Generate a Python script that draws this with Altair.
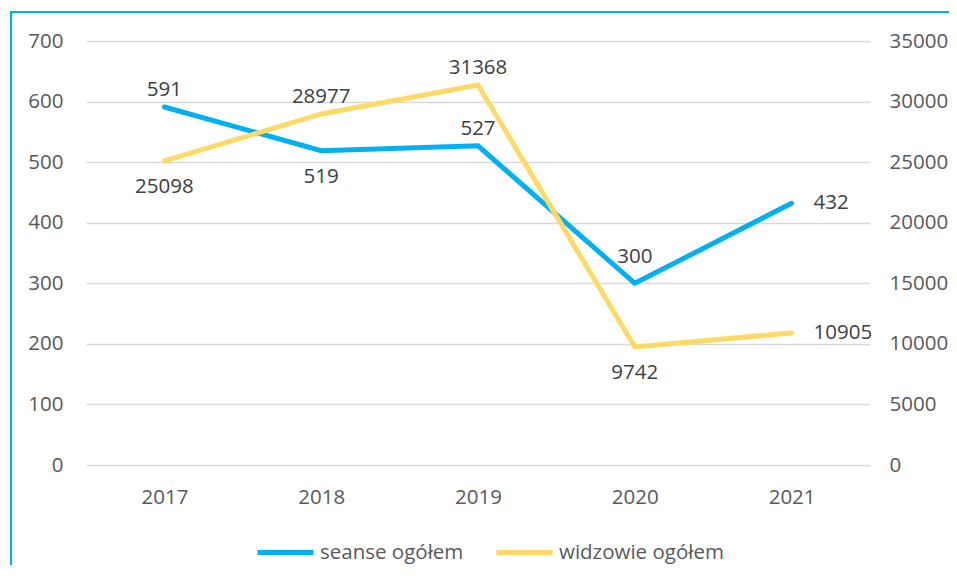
import altair as alt
import pandas as pd

years = ["2017", "2018", "2019", "2020", "2021"]
seanse = [591, 519, 527, 300, 432]
widzowie = [25098, 28977, 31368, 9742, 10905]
seanse_label_pos = ["above", "below", "above", "high", "right"]
widzowie_label_pos = ["below", "above", "above", "below", "right"]
series_names = ["seanse ogółem", "widzowie ogółem"]
series_colors = ["#00B0F0", "#FFD966"]
left_ticks = list(range(0, 701, 100))
right_ticks = list(range(0, 35001, 5000))

df = pd.DataFrame({
    "year": years,
    "seanse": seanse,
    "widzowie": widzowie,
    "spos": seanse_label_pos,
    "wpos": widzowie_label_pos,
})

FONT = "Open Sans"
AXIS_COLOR = "#595959"
LABEL_COLOR = "#404040"
FS = 20.5

x_enc = alt.X("year:O", title=None,
              axis=alt.Axis(labelAngle=0, domain=False, ticks=False, labelPadding=22,
                            labelFontSize=FS, labelColor=AXIS_COLOR, labelFont=FONT))
color_scale = alt.Scale(domain=series_names, range=series_colors)

base = alt.Chart(df)

y_left = alt.Y("seanse:Q", title=None, scale=alt.Scale(domain=[0, 700]),
               axis=alt.Axis(values=left_ticks, domain=False, ticks=False, labelPadding=23,
                             labelFontSize=FS, labelColor=AXIS_COLOR, labelFont=FONT,
                             format="d", grid=True, gridColor="#D9D9D9", gridWidth=1.5))
y_right = alt.Y("widzowie:Q", title=None, scale=alt.Scale(domain=[0, 35000]),
                axis=alt.Axis(orient="right", values=right_ticks, domain=False, ticks=False,
                              labelPadding=19, labelFontSize=FS, labelColor=AXIS_COLOR,
                              labelFont=FONT, format="d", grid=False))

legend = alt.Legend(title=None, orient="none", direction="horizontal", legendX=169, legendY=481,
                    symbolType="stroke", symbolSize=3136, symbolStrokeWidth=5,
                    labelFontSize=FS, labelColor=AXIS_COLOR, labelFont=FONT,
                    labelOffset=4, columnPadding=22, labelLimit=400)

color_enc = alt.Color("series:N", scale=color_scale, legend=legend)

blue_line = base.transform_calculate(series=f"'{series_names[0]}'").mark_line(
    strokeWidth=5, strokeCap="round", strokeJoin="miter").encode(
    x=x_enc, y=y_left, color=color_enc)


def labels(field, posfield, yenc):
    common = dict(fontSize=FS, font=FONT, color=LABEL_COLOR, baseline="middle")
    enc = dict(x=x_enc, y=yenc, text=alt.Text(f"{field}:Q", format="d"))
    above = base.transform_filter(f"datum.{posfield} == 'above'").mark_text(dy=-17, **common).encode(**enc)
    high = base.transform_filter(f"datum.{posfield} == 'high'").mark_text(dy=-26, **common).encode(**enc)
    below = base.transform_filter(f"datum.{posfield} == 'below'").mark_text(dy=26, **common).encode(**enc)
    right = base.transform_filter(f"datum.{posfield} == 'right'").mark_text(dx=22, align="left", **common).encode(**enc)
    return [above, high, below, right]


border_df = pd.DataFrame({"a": [0]})
border_left = alt.Chart(border_df).mark_rule(color="#00B0F0", strokeWidth=2, clip=False).encode(
    x=alt.value(-75), y=alt.value(-30), y2=alt.value(540))
border_top = alt.Chart(border_df).mark_rule(color="#00B0F0", strokeWidth=2, clip=False).encode(
    x=alt.value(-76), x2=alt.value(880), y=alt.value(-29))

left = alt.layer(blue_line, *labels("seanse", "spos", y_left), border_left, border_top)

yellow_line = base.transform_calculate(series=f"'{series_names[1]}'").mark_line(
    strokeWidth=5, strokeCap="round", strokeJoin="miter").encode(
    x=x_enc, y=y_right, color=color_enc)
right = alt.layer(yellow_line, *labels("widzowie", "wpos", y_right))

chart = alt.layer(left, right).resolve_scale(y="independent").properties(
    width=784, height=424,
    autosize=alt.AutoSizeParams(type="none"),
    padding={"left": 78, "top": 33, "right": 79, "bottom": 100},
).configure(font=FONT).configure_view(stroke=None)

chart.save("out.html", embed_options={"renderer": "svg", "actions": False})
